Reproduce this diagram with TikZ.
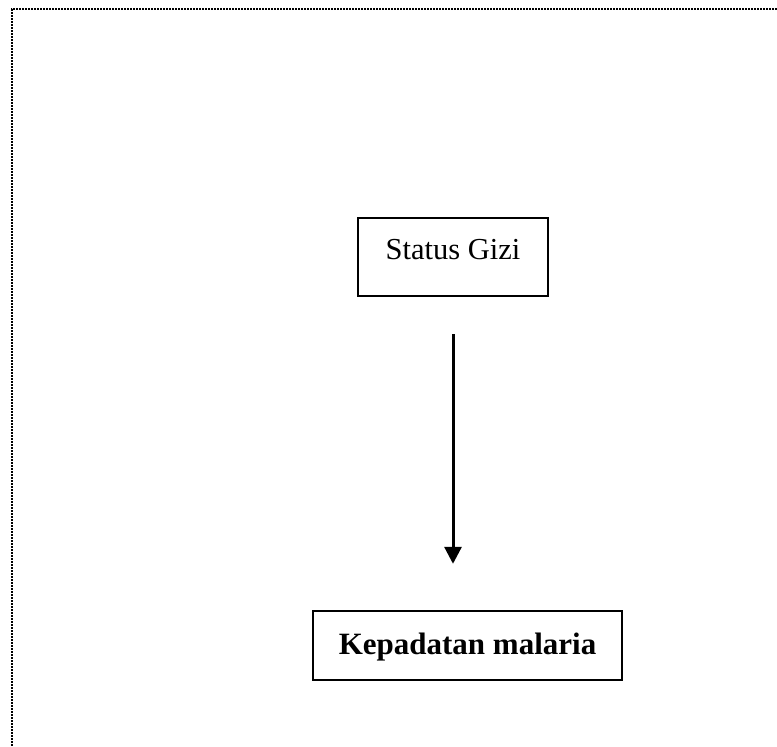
\documentclass[tikz,border=0pt]{standalone}
\usepackage{fontspec}
\setmainfont{Liberation Serif}
\usetikzlibrary{arrows.meta}
\begin{document}
\begin{tikzpicture}[x=1pt,y=-1pt,
  framebox/.style={draw=black,line width=2.4pt,inner sep=0pt,align=center},
  edgeline/.style={draw=black,line width=2pt,dash pattern=on 2pt off 1pt},
  flow/.style={draw=black,line width=3pt,-{Triangle[width=17pt,length=17pt]}}]
\useasboundingbox (0,0) rectangle (777,747);
\fill[white] (0,0) rectangle (777,747);
\coordinate (tl) at (12,9);
\coordinate (tr) at (777,9);
\coordinate (bl) at (12,747);
\draw[edgeline] (tr) -- (tl) -- (bl);
\node[framebox,minimum width=190pt,minimum height=78pt,text height=20pt,text depth=16pt,
  font=\fontsize{30.5}{36}\selectfont] (gizi) at (453,257) {Status Gizi};
\node[framebox,minimum width=309pt,minimum height=69pt,text height=22pt,text depth=5pt,
  font=\fontsize{31}{37}\selectfont\bfseries] (kep) at (467.5,645.5) {Kepadatan malaria};
\draw[flow,shorten <=37pt,shorten >=46pt] (gizi.south) -- (gizi.south |- kep.north);
\end{tikzpicture}
\end{document}
